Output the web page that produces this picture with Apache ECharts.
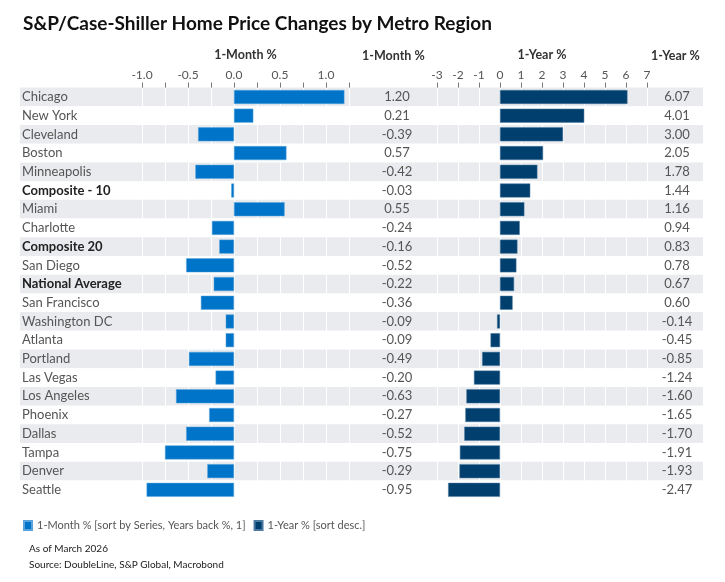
<!DOCTYPE html>
<html>
<head>
<meta charset="utf-8">
<script src="https://cdn.jsdelivr.net/npm/echarts@6/dist/echarts.min.js"></script>
<style>
  html, body { margin: 0; padding: 0; background: #fff; }
  #chart { width: 725px; height: 582px; }
</style>
</head>
<body>
<div id="chart"></div>
<script>
const regions = ['Chicago', 'New York', 'Cleveland', 'Boston', 'Minneapolis', 'Composite - 10', 'Miami',
  'Charlotte', 'Composite 20', 'San Diego', 'National Average', 'San Francisco', 'Washington DC',
  'Atlanta', 'Portland', 'Las Vegas', 'Los Angeles', 'Phoenix', 'Dallas', 'Tampa', 'Denver', 'Seattle']
const boldRegions = ['Composite - 10', 'Composite 20', 'National Average']
const monthPct = [1.20, 0.21, -0.39, 0.57, -0.42, -0.03, 0.55, -0.24, -0.16, -0.52, -0.22, -0.36,
  -0.09, -0.09, -0.49, -0.20, -0.63, -0.27, -0.52, -0.75, -0.29, -0.95]
const yearPct = [6.07, 4.01, 3.00, 2.05, 1.78, 1.44, 1.16, 0.94, 0.83, 0.78, 0.67, 0.60,
  -0.14, -0.45, -0.85, -1.24, -1.60, -1.65, -1.70, -1.91, -1.93, -2.47]

const font = 'Lato, "Open Sans", sans-serif'
const gridTop = 87.6
const rowsH = 411.6

const chart = echarts.init(document.getElementById('chart'))

// 数值轴公共样式
function valueAxis(idx, min, max, interval, name, fmt) {
  return {
    type: 'value', gridIndex: idx, position: 'top', min: min, max: max, interval: interval,
    name: name, nameLocation: 'middle', nameGap: 26,
    nameTextStyle: { color: '#333', fontWeight: 'bold', fontSize: 12.5, fontFamily: font },
    axisLine: { show: false },
    axisTick: { show: true, length: 5, lineStyle: { color: '#777' } },
    axisLabel: { color: '#555', fontSize: 12, fontFamily: font, margin: 6, formatter: fmt },
    splitLine: { show: true, lineStyle: { color: '#fff', width: 1 } }
  }
}

const option = {
  animation: false,
  title: {
    text: 'S&P/Case-Shiller Home Price Changes by Metro Region',
    left: 18, top: 9,
    textStyle: { fontFamily: font, fontWeight: 'bold', fontSize: 19, color: '#111' }
  },
  legend: {
    left: 18, top: 515, itemWidth: 8, itemHeight: 9, itemGap: 8,
    icon: 'rect',
    textStyle: { color: '#555', fontSize: 11, fontFamily: font },
    data: ['1-Month % [sort by Series, Years back %, 1]', '1-Year % [sort desc.]']
  },
  grid: [
    { left: 20, width: 683, top: gridTop, height: rowsH },
    { left: 142, width: 207, top: gridTop, height: rowsH },
    { left: 437, width: 210, top: gridTop, height: rowsH }
  ],
  xAxis: [
    { type: 'value', gridIndex: 0, show: false },
    valueAxis(1, -1, 1.25, 0.25, '1-Month %', v => {
      const d = v * 2
      return Math.abs(d - Math.round(d)) < 1e-6 ? v.toFixed(1) : ''
    }),
    valueAxis(2, -3, 7, 1, '1-Year %', v => String(v))
  ],
  yAxis: [
    {
      type: 'category', gridIndex: 0, inverse: true, data: regions,
      axisLine: { show: false }, axisTick: { show: false },
      splitArea: { show: true, areaStyle: { color: ['#e9ebee', '#ffffff'] } },
      axisLabel: {
        inside: true, margin: 2, fontSize: 13, fontFamily: font, color: '#555',
        formatter: v => boldRegions.indexOf(v) >= 0 ? '{b|' + v + '}' : v,
        rich: { b: { fontWeight: 'bold', color: '#222', fontSize: 13, fontFamily: font } }
      }
    },
    {
      type: 'category', gridIndex: 1, inverse: true, data: regions, position: 'right',
      axisLine: { show: false }, axisTick: { show: false },
      axisLabel: {
        margin: 48, align: 'center', fontSize: 13, fontFamily: font, color: '#555',
        formatter: (v, i) => monthPct[i].toFixed(2)
      }
    },
    {
      type: 'category', gridIndex: 2, inverse: true, data: regions, position: 'right',
      axisLine: { show: false }, axisTick: { show: false },
      axisLabel: {
        margin: 30, align: 'center', fontSize: 13, fontFamily: font, color: '#555',
        formatter: (v, i) => yearPct[i].toFixed(2)
      }
    }
  ],
  graphic: [
    { type: 'text', left: 362, top: 49, style: { text: '1-Month %', fill: '#333', font: 'bold 12.5px ' + font } },
    { type: 'text', left: 651, top: 49, style: { text: '1-Year %', fill: '#333', font: 'bold 12.5px ' + font } },
    { type: 'text', left: 29, top: 544, style: { text: 'As of March 2026', fill: '#222', font: '10px ' + font } },
    { type: 'text', left: 29, top: 560, style: { text: 'Source: DoubleLine, S&P Global, Macrobond', fill: '#222', font: '10px ' + font } }
  ],
  series: [
    {
      name: '1-Month % [sort by Series, Years back %, 1]', type: 'bar',
      xAxisIndex: 1, yAxisIndex: 1, data: monthPct, barWidth: 14,
      itemStyle: { color: '#0074c8', borderColor: '#5aa4dc', borderWidth: 0.5 }
    },
    {
      name: '1-Year % [sort desc.]', type: 'bar',
      xAxisIndex: 2, yAxisIndex: 2, data: yearPct, barWidth: 14,
      itemStyle: { color: '#003f6e', borderColor: '#4d7aa0', borderWidth: 0.5 }
    }
  ]
}

chart.setOption(option)
</script>
</body>
</html>
